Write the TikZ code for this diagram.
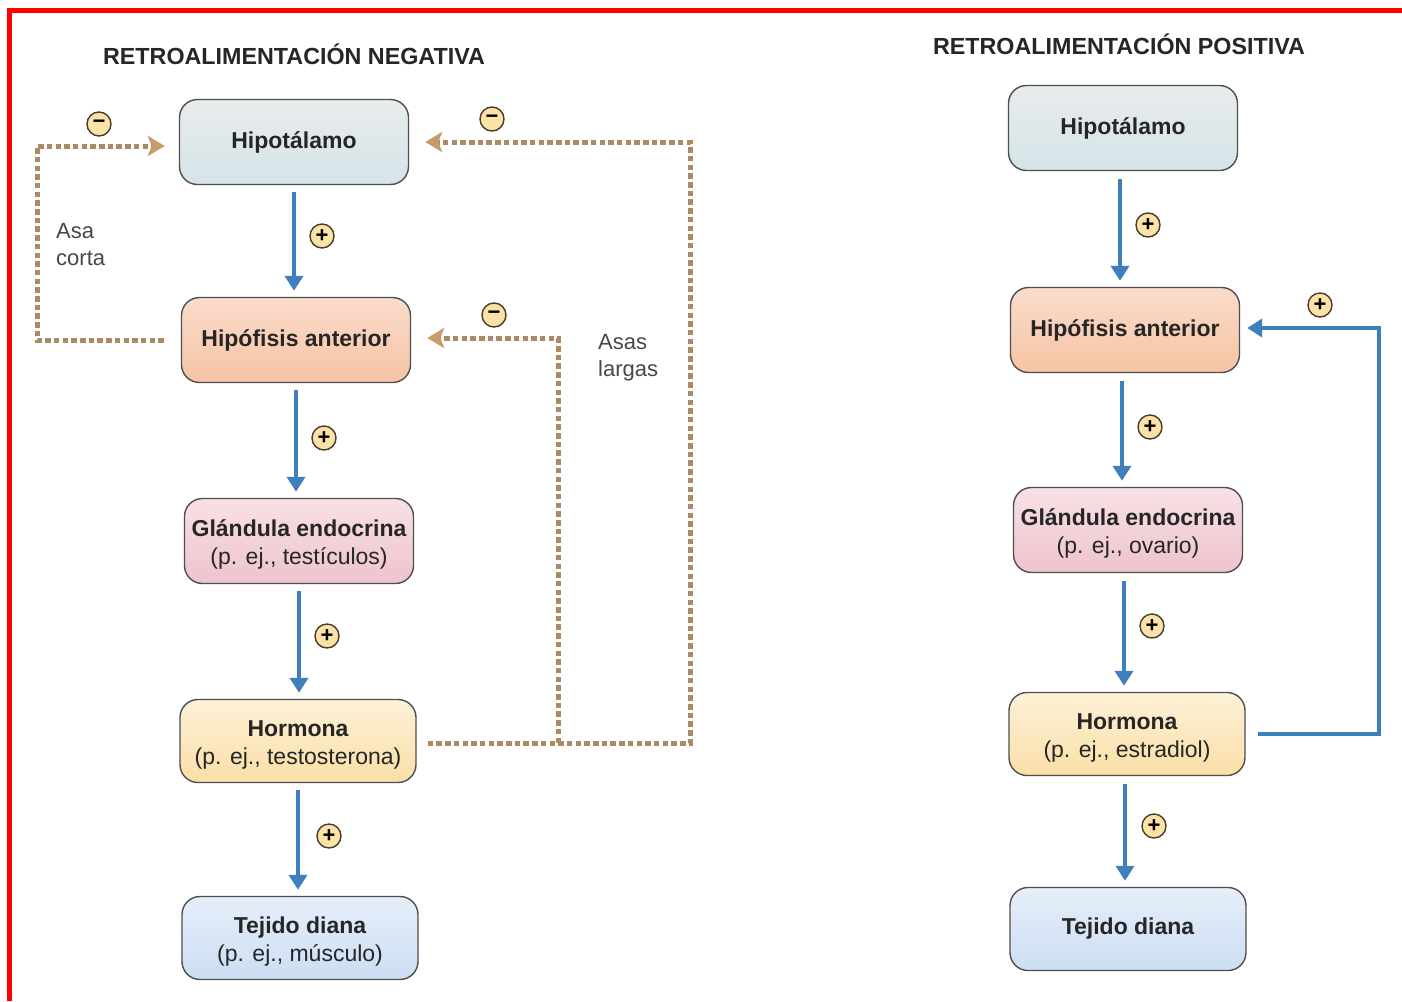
\documentclass[tikz,border=0pt]{standalone}
\usepackage{fontspec}
\setmainfont{Liberation Sans}
\usetikzlibrary{arrows.meta}
\definecolor{boxline}{HTML}{4F4F4F}
\definecolor{txt}{HTML}{262626}
\definecolor{flowblue}{HTML}{3F7FBD}
\definecolor{fbbrown}{HTML}{AB8A64}
\definecolor{fbtip}{HTML}{C69C6B}
\definecolor{signfill}{HTML}{FBE2A6}
\definecolor{signline}{HTML}{4A3B2C}
\definecolor{hipoT}{HTML}{E8ECEC}
\definecolor{hipoB}{HTML}{D5E4E8}
\definecolor{hipfT}{HTML}{FADCCB}
\definecolor{hipfB}{HTML}{F6C3A4}
\definecolor{glanT}{HTML}{F8E1E5}
\definecolor{glanB}{HTML}{EEC3CD}
\definecolor{hormT}{HTML}{FDF1D8}
\definecolor{hormB}{HTML}{FADFA6}
\definecolor{tejT}{HTML}{E6EEF9}
\definecolor{tejB}{HTML}{CCDEF3}
\newcommand{\topstrut}{\rule{0pt}{24pt}}
\begin{document}
\begin{tikzpicture}[x=1pt,y=-1pt,
  box/.style={draw=boxline, line width=1.4pt, rounded corners=18pt,
    minimum width=229pt, minimum height=85pt, align=center, text=txt,
    font=\fontsize{23}{28}\selectfont, inner sep=0pt, shading=axis},
  widebox/.style={box, minimum width=236pt, minimum height=83pt},
  hipo/.style={top color=hipoT, bottom color=hipoB},
  hipf/.style={top color=hipfT, bottom color=hipfB},
  glan/.style={top color=glanT, bottom color=glanB},
  horm/.style={top color=hormT, bottom color=hormB},
  tej/.style={top color=tejT, bottom color=tejB},
  flow/.style={draw=flowblue, line width=4pt,
    -{Triangle[width=18pt,length=15pt]}},
  fb/.style={draw=fbbrown, line width=5pt, dash pattern=on 5.5pt off 3.2pt,
    -{Stealth[width=20pt,length=17pt,inset=4pt,fill=fbtip,color=fbtip]}},
  sign/.style={circle, draw=signline, fill=signfill, line width=1.4pt,
    minimum size=24pt, inner sep=0pt, text=black,
    font=\bfseries\fontsize{22}{22}\selectfont},
  title/.style={text=txt, font=\bfseries\fontsize{23.3}{27}\selectfont},
  lbl/.style={text=txt!85, align=left, anchor=north west,
    font=\fontsize{22}{27}\selectfont, inner sep=0pt}
]
\useasboundingbox (0,0) rectangle (1402,1001);
\fill[white] (0,0) rectangle (1402,1001);
% red frame
\draw[red, line width=5.5pt] (9.5,1001) -- (9.5,10.5) -- (1402,10.5);

% titles
\node[title] (t1) at (294,54) {RETROALIMENTACIÓN NEGATIVA};
\node[title] (t2) at (1119,44) {RETROALIMENTACIÓN POSITIVA};

% left column
\node[box,hipo] (h1) at (294,142) {\bfseries Hipotálamo};
\node[box,hipf] (p1) at (296,340) {\bfseries Hipófisis anterior};
\node[box,glan] (g1) at (299,541) {\topstrut\bfseries Glándula endocrina\\(p. ej., testículos)};
\node[widebox,horm] (m1) at (298,741) {\topstrut\bfseries Hormona\\(p. ej., testosterona)};
\node[widebox,tej] (d1) at (300,938) {\topstrut\bfseries Tejido diana\\(p. ej., músculo)};

% right column
\node[box,hipo] (h2) at (1123,128) {\bfseries Hipotálamo};
\node[box,hipf] (p2) at (1125,330) {\bfseries Hipófisis anterior};
\node[box,glan] (g2) at (1128,530) {\topstrut\bfseries Glándula endocrina\\(p. ej., ovario)};
\node[widebox,horm] (m2) at (1127,734) {\topstrut\bfseries Hormona\\(p. ej., estradiol)};
\node[widebox,tej] (d2) at (1128,929) {\bfseries Tejido diana};

% blue flow arrows
\draw[flow] ([yshift=-7pt]h1.south) -- ([yshift=6pt]h1.south |- p1.north);
\draw[flow] ([yshift=-7pt]p1.south) -- ([yshift=6pt]p1.south |- g1.north);
\draw[flow] ([yshift=-7pt]g1.south) -- ([yshift=6pt]g1.south |- m1.north);
\draw[flow] ([yshift=-7pt]m1.south) -- ([yshift=6pt]m1.south |- d1.north);
\draw[flow] ([xshift=-3pt,yshift=-8pt]h2.south) -- ([xshift=-3pt,yshift=6pt]h2.south |- p2.north);
\draw[flow] ([xshift=-3pt,yshift=-8pt]p2.south) -- ([xshift=-3pt,yshift=6pt]p2.south |- g2.north);
\draw[flow] ([xshift=-4pt,yshift=-8pt]g2.south) -- ([xshift=-4pt,yshift=6pt]g2.south |- m2.north);
\draw[flow] ([xshift=-2pt,yshift=-8pt]m2.south) -- ([xshift=-2pt,yshift=6pt]m2.south |- d2.north);

% plus signs on flow arrows
\node[sign] (s1) at (322,236) {+};
\node[sign] (s2) at (324,438) {+};
\node[sign] (s3) at (327,636) {+};
\node[sign] (s4) at (329,836) {+};
\node[sign] (s5) at (1148,225) {+};
\node[sign] (s6) at (1150,427) {+};
\node[sign] (s7) at (1152,626) {+};
\node[sign] (s8) at (1154,826) {+};

% negative feedback loops
\coordinate (sa) at (37,340);
\draw[fb] ([xshift=-17pt]p1.west) -- (sa) |- ([xshift=-14pt,yshift=-4pt]h1.west);
\coordinate (lr) at (690,743);
\draw[fb] ([xshift=11pt,yshift=-2pt]m1.east) -- (lr) |- ([xshift=16pt]h1.east);
\coordinate (li) at (558,743);
\draw[fb] (li) |- ([xshift=16pt,yshift=2pt]p1.east);

\node[sign] (n1) at (99,124) {−};
\node[sign] (n2) at (492,119) {−};
\node[sign] (n3) at (494,315) {−};

\node[lbl] (asa) at (56,223) {Asa\\corta};
\node[lbl] (asas) at (598,334) {Asas\\largas};

% positive feedback loop
\coordinate (fr) at (1379,734);
\draw[flow] ([xshift=12pt]m2.east) -- (fr) |- ([xshift=7pt,yshift=2pt]p2.east);
\node[sign] (s9) at (1320,305) {+};
\end{tikzpicture}
\end{document}
